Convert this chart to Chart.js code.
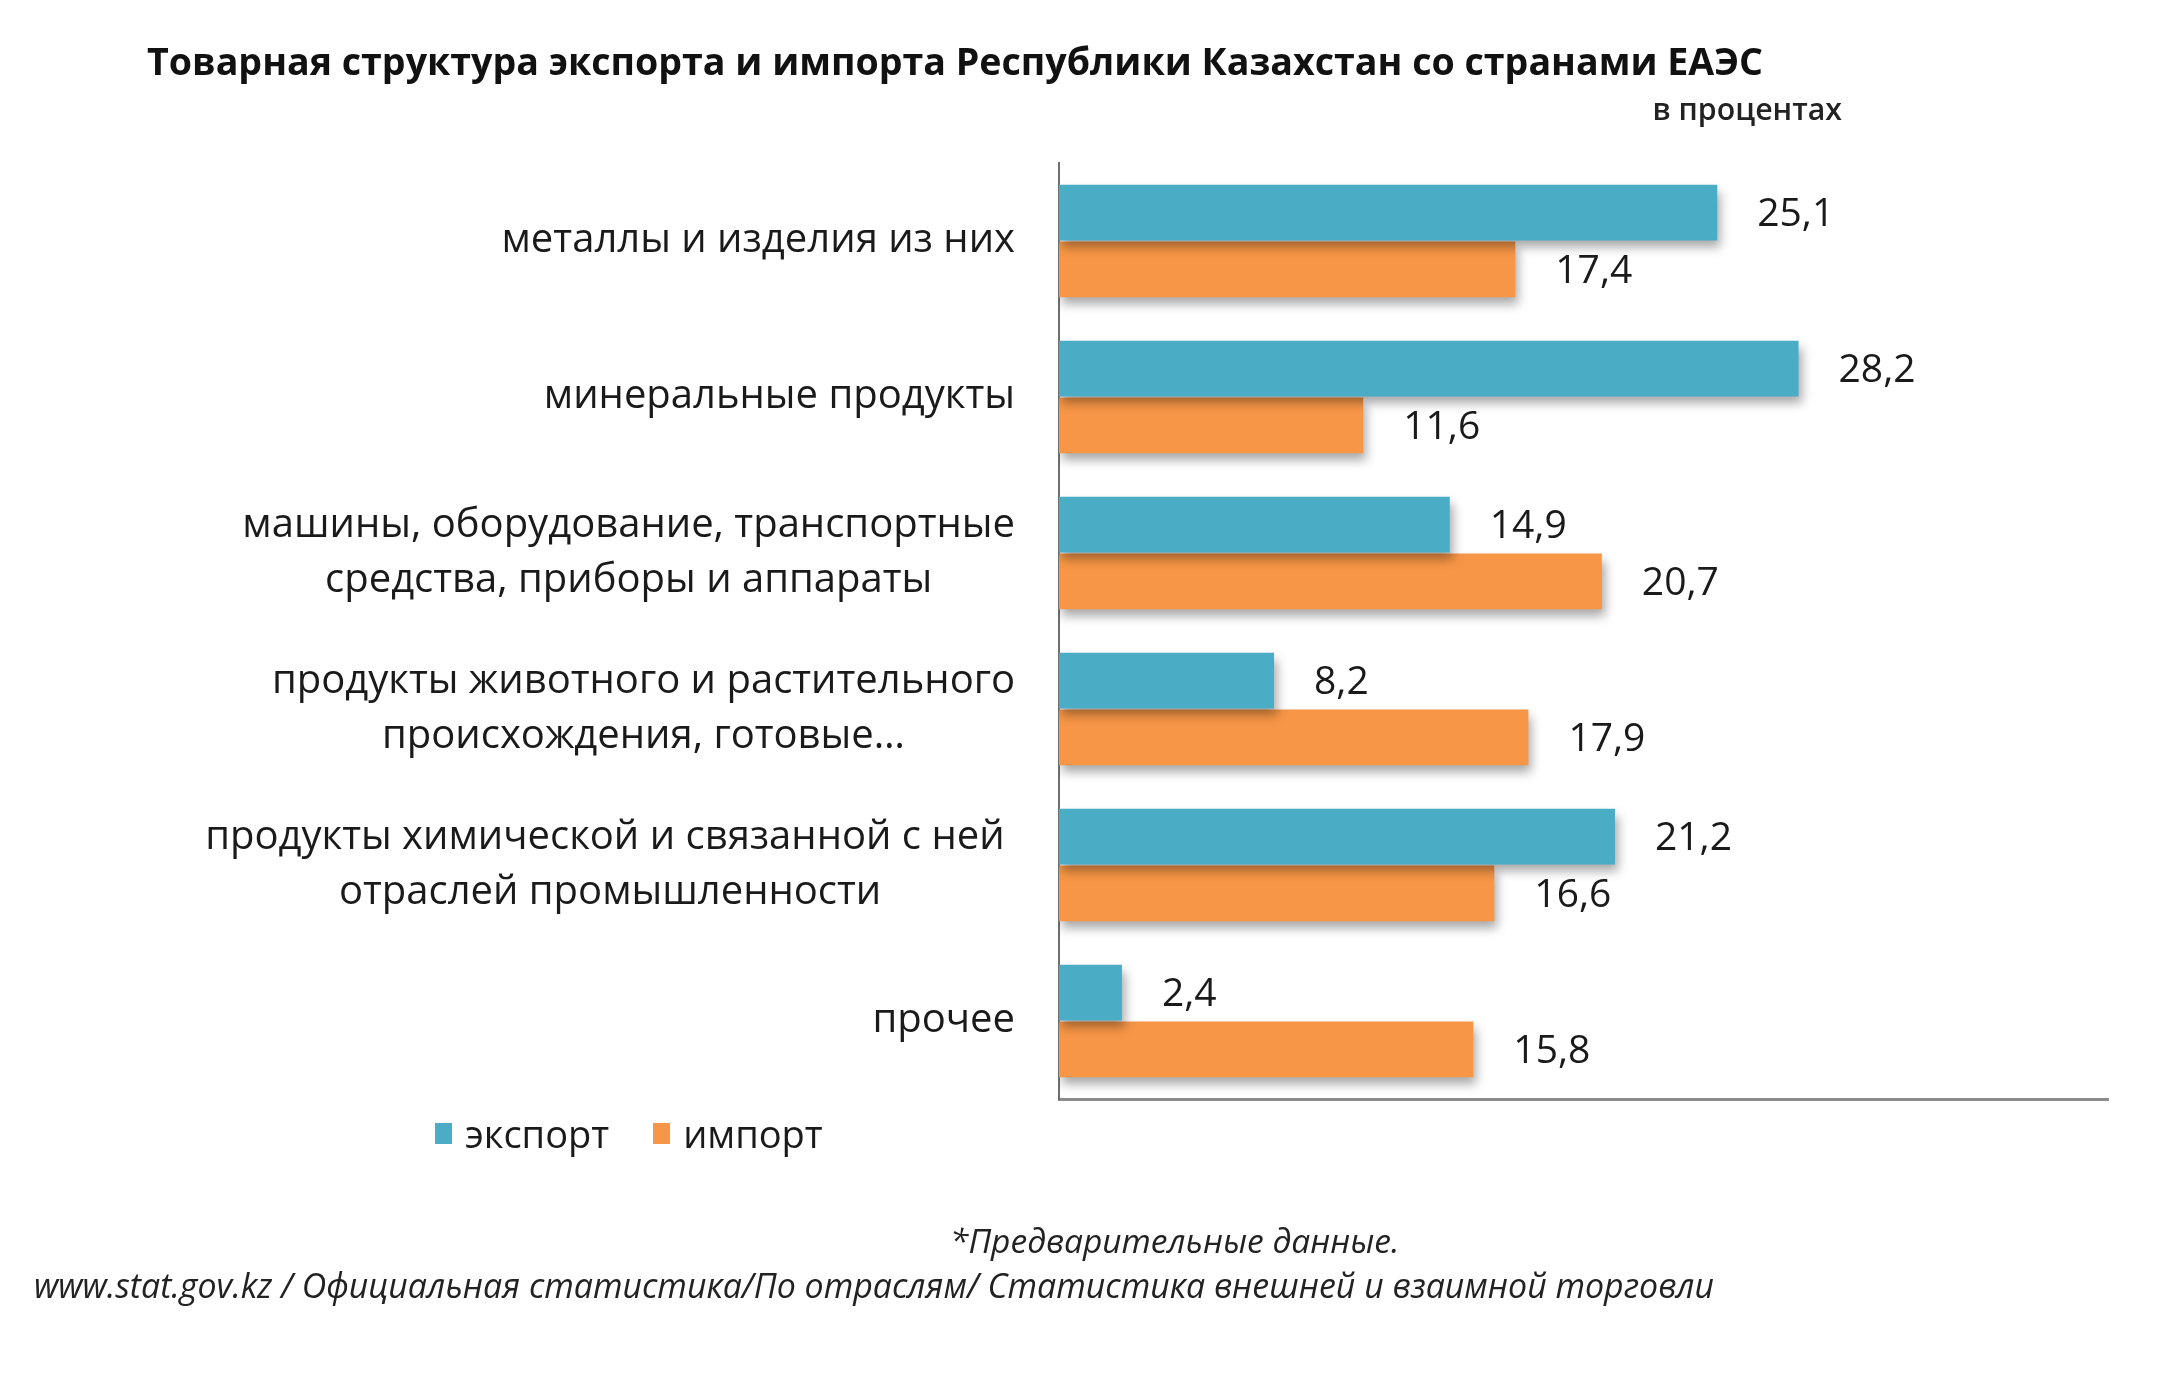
<!DOCTYPE html>
<html lang="ru">
<head>
<meta charset="utf-8">
<title>Товарная структура экспорта и импорта Республики Казахстан со странами ЕАЭС</title>
<script src="https://cdn.jsdelivr.net/npm/chart.js@4.4.1/dist/chart.umd.min.js"></script>
<style>
  html, body { margin: 0; padding: 0; background: #ffffff; }
  #wrap { position: relative; width: 2160px; height: 1375px; overflow: hidden; font-family: "Open Sans", "Noto Sans", sans-serif; color: #1a1a1a; }
  #chart { position: absolute; left: 0; top: 0; }
  .txt { position: absolute; white-space: nowrap; line-height: 1; }
  #title { left: 147px; top: 42px; font-size: 37.6px; font-weight: 700; color: #111; }
  #subtitle { right: 318px; top: 94px; font-size: 30.3px; font-weight: 600; color: #222; }
  #legend { position: absolute; left: 435px; top: 1107px; display: flex; align-items: center; font-size: 38px; }
  #legend .item { display: flex; align-items: center; margin-right: 44px; }
  #legend .sw { width: 17px; height: 21px; margin-right: 13px; }
  #note1 { left: 950px; top: 1224px; font-size: 33.5px; font-style: italic; color: #222; }
  #note2 { left: 34px; top: 1269px; font-size: 33.9px; font-style: italic; color: #222; }
</style>
</head>
<body>
<div id="wrap">
  <canvas id="chart" width="2160" height="1375"></canvas>
  <div class="txt" id="title">Товарная структура экспорта и импорта Республики Казахстан со странами ЕАЭС</div>
  <div class="txt" id="subtitle">в процентах</div>
  <div id="legend"></div>
  <div class="txt" id="note1">*Предварительные данные.</div>
  <div class="txt" id="note2">www.stat.gov.kz / Официальная статистика/По отраслям/ Статистика внешней и взаимной торговли</div>
</div>
<script>
// ---- data ----
const categories = [
  'металлы и изделия из них',
  'минеральные продукты',
  ['машины, оборудование, транспортные', 'средства, приборы и аппараты'],
  ['продукты животного и растительного', 'происхождения, готовые…'],
  ['продукты химической и связанной с ней ', 'отраслей промышленности'],
  'прочее'
];
const seriesNames = ['экспорт', 'импорт'];
const exportValues = [25.1, 28.2, 14.9, 8.2, 21.2, 2.4];
const importValues = [17.4, 11.6, 20.7, 17.9, 16.6, 15.8];
const seriesColors = ['#4BACC6', '#F79646'];
const xMax = 40;

// ---- styling constants ----
const FONT = '"Open Sans", "Noto Sans", sans-serif';
const LABEL_SIZE = 40;
const LABEL_LINE = 55;
const LABEL_GAP = 44;
const AXIS_LEFT = 1059;

const shadowPlugin = {
  id: 'barShadow',
  beforeDatasetsDraw(chart) {
    const ctx = chart.ctx;
    ctx.save();
    ctx.shadowColor = 'rgba(0,0,0,0.35)';
    ctx.shadowBlur = 10;
    ctx.shadowOffsetX = 3;
    ctx.shadowOffsetY = 7;
  },
  afterDatasetsDraw(chart) {
    chart.ctx.restore();
  }
};

const labelPlugin = {
  id: 'labels',
  afterDatasetsDraw(chart) {
    const ctx = chart.ctx;
    const yScale = chart.scales.y;
    ctx.save();
    ctx.fillStyle = '#1a1a1a';
    ctx.font = LABEL_SIZE + 'px ' + FONT;
    ctx.textAlign = 'center';
    ctx.textBaseline = 'middle';
    const right = chart.chartArea.left - LABEL_GAP;
    chart.data.labels.forEach((lab, i) => {
      const lines = Array.isArray(lab) ? lab : [lab];
      const maxW = Math.max(...lines.map(l => ctx.measureText(l).width));
      const cx = right - maxW / 2;
      const cy = yScale.getPixelForValue(i);
      const y0 = cy - (lines.length - 1) * LABEL_LINE / 2;
      lines.forEach((l, k) => ctx.fillText(l, cx, y0 + k * LABEL_LINE));
    });
    ctx.textAlign = 'left';
    ctx.font = '39px ' + FONT;
    chart.data.datasets.forEach((ds, di) => {
      const meta = chart.getDatasetMeta(di);
      meta.data.forEach((bar, i) => {
        const txt = ds.data[i].toFixed(1).replace('.', ',');
        ctx.fillText(txt, bar.x + 40, bar.y + 2);
      });
    });
    ctx.restore();
  }
};

const chart = new Chart(document.getElementById('chart'), {
  type: 'bar',
  data: {
    labels: categories,
    datasets: [
      { label: seriesNames[0], data: exportValues, backgroundColor: seriesColors[0] },
      { label: seriesNames[1], data: importValues, backgroundColor: seriesColors[1] }
    ]
  },
  options: {
    indexAxis: 'y',
    responsive: false,
    animation: false,
    devicePixelRatio: 1,
    layout: { padding: { top: 163, right: 52, bottom: 276, left: 0 } },
    datasets: { bar: { categoryPercentage: 0.73, barPercentage: 0.98 } },
    plugins: { legend: { display: false }, title: { display: false }, tooltip: { enabled: false } },
    scales: {
      x: {
        min: 0, max: xMax,
        ticks: { display: false },
        grid: { display: false, drawTicks: false },
        border: { display: true, color: '#8c8c8c', width: 3 }
      },
      y: {
        ticks: { display: false },
        grid: { display: false, drawTicks: false },
        border: { display: true, color: '#6e6e6e', width: 2 },
        afterFit(scale) { scale.width = AXIS_LEFT; }
      }
    }
  },
  plugins: [shadowPlugin, labelPlugin]
});

const legend = document.getElementById('legend');
chart.data.datasets.forEach(ds => {
  const item = document.createElement('div');
  item.className = 'item';
  const sw = document.createElement('span');
  sw.className = 'sw';
  sw.style.background = ds.backgroundColor;
  const t = document.createElement('span');
  t.textContent = ds.label;
  item.appendChild(sw);
  item.appendChild(t);
  legend.appendChild(item);
});
</script>
</body>
</html>
